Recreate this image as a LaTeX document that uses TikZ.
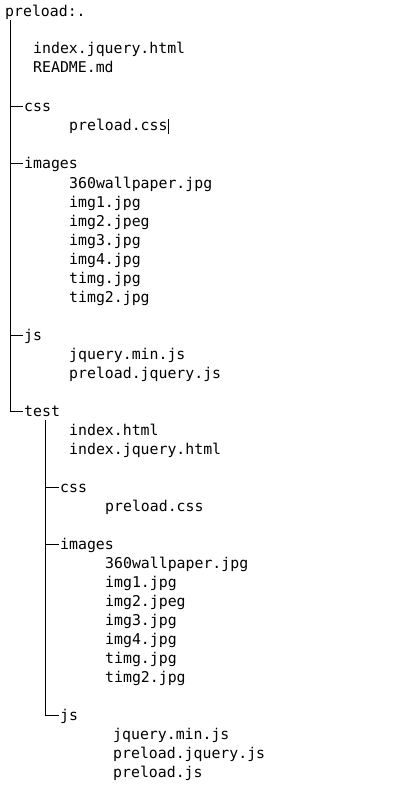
\documentclass[tikz,border=0pt]{standalone}
\usepackage{fontspec}
\setmonofont{DejaVu Sans Mono}
\usepackage{tikz}
\usetikzlibrary{calc}
\usepackage{xcolor}
\definecolor{ink}{HTML}{000000}
\tikzset{
  file/.style={anchor=base west, inner sep=0pt, text=ink, font=\ttfamily\fontsize{14.85}{17}\selectfont},
  dirname/.style={file, text height=10pt, text depth=0pt},
  tree/.style={draw=ink, line width=1pt},
  cursor/.style={draw=ink, line width=0.7pt}
}
\begin{document}
\begin{tikzpicture}[x=1pt, y=-1pt]
  \fill[white] (0,0) rectangle (413,792);
  \useasboundingbox (0,0) rectangle (413,792);
  \node[dirname] (root) at (5,17) {preload:.};
  \node[file] (rindex) at (33,54) {index.jquery.html};
  \node[file] (readme) at (33,73) {README.md};
  \node[dirname] (css) at (24,111) {css};
  \node[file] (csspre) at (69,130) {preload.css};
  \node[dirname] (images) at (24,168) {images};
  \node[file] (img0) at (69,188) {360wallpaper.jpg};
  \node[file] (img1) at (69,207) {img1.jpg};
  \node[file] (img2) at (69,226) {img2.jpeg};
  \node[file] (img3) at (69,245) {img3.jpg};
  \node[file] (img4) at (69,264) {img4.jpg};
  \node[file] (img5) at (69,283) {timg.jpg};
  \node[file] (img6) at (69,302) {timg2.jpg};
  \node[dirname] (js) at (24,340) {js};
  \node[file] (jsmin) at (69,359) {jquery.min.js};
  \node[file] (jsjq) at (69,378) {preload.jquery.js};
  \node[dirname] (test) at (24,416) {test};
  \node[file] (tindex) at (69,435) {index.html};
  \node[file] (tjq) at (69,454) {index.jquery.html};
  \node[dirname] (tcss) at (60,492) {css};
  \node[file] (tcsspre) at (105,511) {preload.css};
  \node[dirname] (timages) at (60,549) {images};
  \node[file] (timg0) at (105,568) {360wallpaper.jpg};
  \node[file] (timg1) at (105,587) {img1.jpg};
  \node[file] (timg2) at (105,606) {img2.jpeg};
  \node[file] (timg3) at (105,625) {img3.jpg};
  \node[file] (timg4) at (105,644) {img4.jpg};
  \node[file] (timg5) at (105,663) {timg.jpg};
  \node[file] (timg6) at (105,682) {timg2.jpg};
  \node[dirname] (tjs) at (60,720) {js};
  \node[file] (tjsmin) at (113,739) {jquery.min.js};
  \node[file] (tjsjq) at (113,758) {preload.jquery.js};
  \node[file] (tjspre) at (113,777) {preload.js};
  \coordinate (trunk) at (10,20);
  \coordinate (subtrunk) at (45,420);
  \draw[tree] (trunk) |- ([xshift=-1pt]test.west);
  \draw[tree] (trunk |- css.west) -- ([xshift=-1pt]css.west);
  \draw[tree] (trunk |- images.west) -- ([xshift=-1pt]images.west);
  \draw[tree] (trunk |- js.west) -- ([xshift=-1pt]js.west);
  \draw[tree] (subtrunk) |- ([xshift=-1pt]tjs.west);
  \draw[tree] (subtrunk |- tcss.west) -- ([xshift=-1pt]tcss.west);
  \draw[tree] (subtrunk |- timages.west) -- ([xshift=-1pt]timages.west);
  \draw[cursor] ([xshift=1pt]csspre.base east) ++(0,4) -- ++(0,-15);
\end{tikzpicture}
\end{document}
